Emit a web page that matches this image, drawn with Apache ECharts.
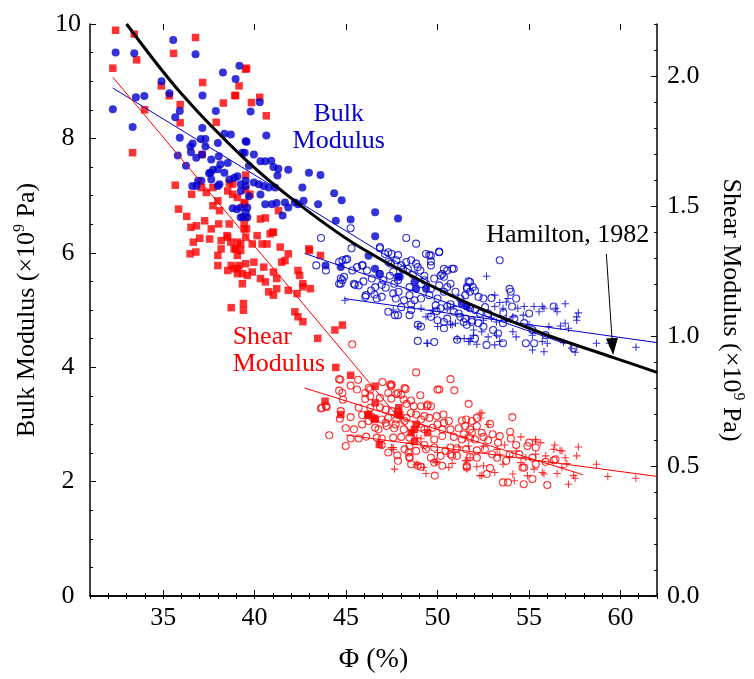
<!DOCTYPE html>
<html><head><meta charset="utf-8">
<script src="https://cdn.jsdelivr.net/npm/echarts@6/dist/echarts.min.js"></script>
<style>html,body{margin:0;padding:0;background:#fff}#c{width:754px;height:679px}</style>
</head><body><div id="c"></div>
<script>
const FONT = 'Liberation Serif';
const BLUE = '#0000d0';
const RED = '#ff0000';

// axis ticks
const xMajorTicks = [35, 40, 45, 50, 55, 60];
const yRightMajorTicks = [0, 0.5, 1.0, 1.5, 2.0];

// Hamilton (1982) bulk modulus curve (left axis)
const hamiltonCurve = [[33,10],[36,8.78],[39.5,7.63],[42.5,6.83],[45.9,6.07],[50.7,5.26],[55.5,4.62],[59.7,4.16],[62,3.91]];
const hamiltonArrow = [[59.23,5.98],[59.57,4.36]];

// fitted lines
const bulkFilledFit = [[32.25,8.88],[49.6,5.48]];
const bulkOpenFit = [[42.73,5.99],[57.0,4.41]];
const bulkPlusFit = [[44.9,5.20],[62,4.43]];
const shearSquareFit = [[32.25,1.995],[49.44,0.555]];
const shearOpenFit = [[42.73,0.800],[57.97,0.466]];
const shearPlusFit = [[45.0,0.619],[62,0.46]];

// Bulk modulus (x10^9 Pa), left axis
const bulkFilled = [[32.25,8.51],[32.40,9.50],[33.33,8.20],[33.42,9.49],[33.51,8.72],[33.97,8.74],[34.91,9.00],[35.34,8.79],[35.55,9.72],[35.91,8.48],[35.66,8.37],[35.91,8.01],[35.80,7.70],[36.25,7.52],[36.77,9.47],[37.15,8.75],[37.14,8.18],[37.06,7.99],[37.31,7.99],[36.49,7.86],[36.61,7.91],[36.52,7.76],[36.81,7.66],[37.31,7.86],[37.13,7.72],[37.63,7.63],[37.72,7.45],[37.51,7.39],[37.99,7.46],[38.04,7.69],[37.99,7.92],[37.88,8.48],[38.27,9.15],[38.35,8.08],[38.70,8.07],[38.96,9.04],[39.17,9.27],[39.51,7.95],[39.46,7.75],[38.13,7.55],[38.53,7.57],[38.35,7.40],[38.62,7.28],[38.89,7.31],[39.06,7.34],[39.24,7.20],[39.51,7.17],[37.59,7.40],[37.63,7.28],[36.91,7.26],[36.59,7.17],[36.82,7.17],[37.09,7.26],[37.99,7.17],[38.08,7.20],[38.80,6.78],[39.03,6.76],[39.33,6.62],[39.51,6.71],[39.24,6.79],[40.28,8.63],[39.78,8.47],[40.64,8.05],[39.56,7.94],[39.33,7.75],[39.96,7.72],[40.32,7.60],[40.58,7.60],[40.91,7.61],[39.69,7.52],[41.03,7.50],[41.30,7.47],[41.25,7.35],[41.84,7.45],[42.97,7.40],[43.60,7.36],[42.61,7.14],[39.51,7.26],[39.96,7.23],[40.23,7.20],[40.50,7.17],[40.77,7.14],[41.12,7.14],[39.24,7.08],[39.69,6.99],[40.32,7.02],[40.58,6.85],[40.94,6.85],[41.20,6.87],[41.66,6.88],[41.84,6.79],[41.53,6.65],[42.20,6.88],[42.38,6.85],[42.68,6.91],[43.47,6.85],[44.35,7.04],[44.76,6.92],[44.44,6.56],[45.25,6.58],[46.59,6.71],[46.59,6.29],[47.84,6.60],[39.60,6.79],[39.24,6.62],[39.60,6.62],[46.23,5.95],[46.58,5.72],[43.88,5.78],[44.71,5.75],[46.82,5.63],[47.93,5.58],[48.74,5.49],[49.37,5.37],[51.33,5.11],[51.60,5.06],[48.83,5.37],[47.84,5.58]];
const bulkOpen = [[43.63,6.26],[45.30,6.08],[48.29,6.26],[48.83,6.16],[46.85,6.08],[47.31,6.01],[47.49,5.98],[47.84,5.96],[50.09,6.02],[49.55,5.96],[49.64,5.85],[43.37,5.78],[43.90,5.69],[44.98,5.88],[44.62,5.84],[45.60,5.75],[45.91,5.78],[46.14,5.69],[47.31,5.84],[47.45,5.81],[48.29,5.84],[48.56,5.87],[48.83,5.81],[49.06,5.69],[48.38,5.72],[48.11,5.71],[47.58,5.67],[46.85,5.63],[46.41,5.55],[47.04,5.52],[46.95,5.44],[47.63,5.46],[47.17,5.39],[44.71,5.55],[44.89,5.58],[44.71,5.46],[45.48,5.44],[45.69,5.43],[46.37,5.34],[46.09,5.26],[46.55,5.27],[46.95,5.23],[46.68,5.20],[47.58,5.29],[47.72,5.20],[47.87,5.32],[48.47,5.40],[48.47,5.26],[48.17,5.17],[48.56,5.10],[48.74,5.17],[49.10,5.20],[49.55,5.26],[50.00,5.20],[50.35,5.32],[50.53,5.40],[50.26,5.63],[50.53,5.69],[50.89,5.72],[50.35,5.58],[50.71,5.46],[50.98,5.32],[51.25,5.20],[51.61,5.37],[51.78,5.32],[51.52,5.26],[49.90,5.08],[50.17,5.03],[50.53,5.06],[50.89,4.97],[51.16,4.94],[47.31,4.97],[47.67,4.91],[47.84,4.91],[48.56,5.00],[48.47,4.91],[48.92,4.74],[49.10,4.71],[49.64,4.88],[50.00,4.82],[50.35,4.79],[50.53,4.85],[50.35,4.68],[51.43,4.79],[51.60,4.74],[51.88,4.82],[48.92,4.46],[49.82,4.44],[51.07,4.48],[46.05,5.23],[45.34,5.69],[44.80,5.87],[45.06,5.89],[47.75,5.87],[48.02,5.78],[49.37,5.98],[48.92,5.75],[49.28,5.52],[51.70,5.50],[51.61,5.40],[51.93,5.40],[52.05,5.34],[52.24,5.23],[52.51,5.20],[52.95,5.21],[51.78,5.03],[52.05,5.00],[52.32,4.94],[52.77,4.94],[51.52,4.85],[51.88,4.79],[52.24,4.77],[52.51,4.71],[53.04,4.65],[53.31,4.59],[53.58,4.42],[52.68,4.39],[52.05,4.50],[53.94,5.37],[54.00,5.32],[54.30,5.20],[54.08,5.06],[54.20,4.85],[55.01,4.94],[54.74,4.77],[55.19,4.65],[54.83,4.42],[55.28,4.42],[55.91,4.56],[56.35,5.06],[57.43,4.33],[53.58,4.77],[53.40,5.87],[44.80,5.52],[44.62,5.46],[45.43,5.46],[47.13,5.98],[49.64,5.95],[50.09,6.01],[45.87,5.78],[49.64,5.78],[50.35,5.72],[50.80,5.72],[51.78,5.49],[50.17,5.60],[45.25,6.43],[46.85,6.10],[46.59,5.40],[47.40,5.60],[47.84,5.52],[49.28,5.60],[49.82,5.55],[49.64,5.37],[50.09,5.43],[48.02,5.05],[49.10,5.45],[50.71,5.10],[51.25,4.88],[52.60,5.05],[53.60,4.95],[45.95,5.50],[48.65,5.62],[49.95,4.98]];
const bulkPlus = [[44.94,5.17],[48.92,4.71],[49.46,4.42],[49.37,4.88],[49.64,4.94],[50.00,4.71],[50.71,4.75],[50.98,4.77],[51.70,5.03],[51.46,4.50],[51.78,4.45],[51.97,4.56],[49.10,5.03],[49.73,5.00],[50.53,5.03],[50.89,5.06],[52.68,5.59],[53.40,5.13],[53.13,5.06],[53.58,5.03],[53.76,4.85],[54.12,4.88],[54.39,5.03],[54.74,5.06],[54.69,4.91],[55.28,5.06],[55.73,5.06],[55.55,4.97],[55.82,5.03],[56.45,5.03],[56.98,5.11],[56.54,4.97],[56.72,4.72],[56.98,4.77],[57.16,4.68],[57.61,4.88],[57.70,4.95],[57.61,4.82],[54.12,4.62],[54.30,4.53],[55.19,4.56],[55.73,4.45],[55.82,4.27],[55.19,4.30],[56.00,4.42],[56.89,4.43],[57.34,4.33],[57.52,4.26],[51.97,4.65],[52.42,4.62],[52.77,4.53],[53.22,4.56],[53.40,4.45],[51.70,4.45],[52.15,4.40],[53.13,4.39],[52.51,4.82],[52.95,4.86],[53.22,4.79],[53.76,5.14],[55.01,4.74],[56.09,4.71],[58.69,4.42],[59.40,4.42],[60.85,4.35],[53.13,5.26],[53.85,5.20],[47.58,5.00],[49.42,4.42],[51.08,4.50],[50.80,4.74],[51.78,4.50]];

// Shear modulus (x10^9 Pa), right axis
const shearSquares = [[32.40,2.176],[33.42,2.161],[32.25,2.030],[33.55,2.062],[33.99,1.870],[33.33,1.705],[34.90,1.962],[35.34,1.924],[35.57,2.087],[35.93,1.890],[35.93,1.820],[36.77,2.148],[37.16,1.975],[38.29,1.896],[37.90,1.822],[38.96,1.925],[39.51,2.026],[39.15,1.962],[37.13,1.698],[35.66,1.580],[35.84,1.488],[36.29,1.460],[36.56,1.545],[37.09,1.571],[37.36,1.552],[37.72,1.571],[37.99,1.520],[37.72,1.501],[38.08,1.482],[38.53,1.558],[38.80,1.545],[38.80,1.584],[39.06,1.533],[39.43,1.507],[36.52,1.418],[36.82,1.424],[37.27,1.443],[37.63,1.412],[38.04,1.431],[38.61,1.431],[39.43,1.412],[39.06,1.361],[38.53,1.380],[38.17,1.367],[37.00,1.376],[37.54,1.373],[39.43,1.431],[36.47,1.316],[36.79,1.323],[36.65,1.361],[37.99,1.310],[38.17,1.335],[38.49,1.386],[38.70,1.361],[38.97,1.335],[39.06,1.310],[37.99,1.271],[38.53,1.252],[38.89,1.259],[39.15,1.271],[39.06,1.240],[39.33,1.201],[39.33,1.240],[38.72,1.109],[39.39,1.125],[39.39,1.099],[39.56,2.030],[38.92,1.925],[39.83,1.898],[40.28,1.918],[40.64,1.847],[38.62,1.588],[39.51,1.619],[39.51,1.562],[39.75,1.545],[39.46,1.514],[39.51,1.456],[41.30,1.482],[40.32,1.450],[40.59,1.454],[40.99,1.399],[40.14,1.386],[40.68,1.354],[39.56,1.412],[41.40,1.342],[39.24,1.354],[42.97,1.335],[39.51,1.380],[39.87,1.354],[38.88,1.335],[39.24,1.329],[40.41,1.354],[40.85,1.393],[41.03,1.399],[41.84,1.316],[43.00,1.329],[43.60,1.310],[38.72,1.271],[39.06,1.259],[39.51,1.278],[39.96,1.284],[40.50,1.265],[41.03,1.246],[41.48,1.284],[41.66,1.290],[39.60,1.233],[39.87,1.246],[40.32,1.221],[40.59,1.208],[41.21,1.221],[42.37,1.252],[42.46,1.233],[42.64,1.201],[42.64,1.189],[41.21,1.182],[40.77,1.170],[41.03,1.157],[41.84,1.176],[42.32,1.163],[43.05,1.182],[42.20,1.093],[42.37,1.074],[42.64,1.055],[44.39,1.023],[44.80,1.042],[43.45,0.991],[44.44,0.879],[45.25,0.849],[43.85,0.749],[46.59,0.807],[46.59,0.743],[44.71,0.698],[46.23,0.698],[46.58,0.679],[47.88,0.724],[47.84,0.698],[46.82,0.583],[48.83,0.660],[48.74,0.641],[49.46,0.628],[47.94,0.696],[46.19,0.696],[46.55,0.683],[48.56,0.628],[48.74,0.594]];
const shearOpen = [[48.83,0.860],[44.62,0.834],[45.25,0.809],[45.66,0.832],[46.99,0.823],[47.41,0.813],[50.71,0.834],[50.10,0.794],[50.92,0.791],[48.26,0.796],[44.62,0.790],[44.80,0.781],[46.05,0.781],[46.32,0.794],[44.83,0.755],[46.05,0.758],[46.85,0.762],[47.31,0.781],[47.75,0.777],[48.02,0.774],[47.47,0.759],[48.15,0.755],[49.06,0.772],[48.55,0.752],[48.31,0.739],[49.10,0.730],[49.42,0.730],[49.64,0.730],[48.70,0.730],[51.70,0.739],[43.63,0.721],[43.94,0.727],[44.71,0.711],[45.69,0.724],[46.32,0.724],[46.85,0.726],[47.17,0.717],[47.51,0.711],[48.55,0.704],[49.28,0.692],[49.55,0.685],[50.32,0.698],[44.66,0.682],[45.25,0.688],[45.88,0.696],[46.42,0.688],[46.95,0.679],[47.31,0.685],[47.75,0.679],[48.31,0.685],[49.10,0.679],[49.96,0.692],[50.35,0.666],[50.62,0.673],[51.33,0.675],[51.57,0.679],[51.88,0.673],[52.15,0.685],[52.87,0.662],[54.09,0.688],[44.98,0.645],[45.43,0.641],[46.59,0.647],[47.22,0.654],[47.63,0.645],[48.15,0.641],[49.28,0.641],[49.73,0.647],[50.26,0.641],[50.71,0.641],[51.16,0.645],[51.52,0.654],[51.78,0.641],[52.15,0.654],[52.42,0.628],[53.01,0.622],[53.97,0.632],[45.69,0.606],[46.10,0.613],[46.95,0.606],[47.58,0.609],[48.02,0.612],[49.82,0.602],[50.26,0.615],[50.89,0.612],[51.33,0.602],[51.78,0.609],[52.51,0.612],[52.77,0.599],[53.31,0.590],[54.01,0.606],[55.01,0.590],[54.92,0.577],[44.98,0.577],[46.95,0.581],[48.47,0.577],[49.37,0.564],[50.44,0.558],[51.06,0.568],[51.57,0.564],[52.15,0.560],[50.17,0.539],[50.71,0.545],[51.06,0.539],[51.78,0.535],[52.99,0.545],[53.26,0.532],[53.94,0.545],[55.19,0.532],[55.91,0.516],[56.45,0.526],[47.80,0.541],[48.47,0.532],[49.82,0.513],[50.26,0.501],[49.10,0.497],[51.60,0.494],[52.87,0.492],[54.65,0.494],[49.85,0.463],[52.69,0.469],[53.58,0.437],[53.85,0.437],[54.71,0.430],[56.00,0.427],[48.92,0.501],[44.08,0.618],[45.25,0.606],[48.42,0.552],[48.47,0.535],[50.80,0.539],[51.60,0.501],[55.19,0.450],[56.36,0.522],[54.74,0.494],[45.34,0.968],[44.69,0.832],[45.60,0.794],[46.23,0.800],[47.49,0.813],[47.84,0.781],[48.20,0.800],[50.00,0.794],[49.46,0.736],[43.67,0.724],[43.90,0.730],[46.32,0.768],[47.47,0.807],[47.84,0.708],[48.83,0.698],[48.20,0.673],[46.77,0.641],[46.68,0.609],[48.47,0.609],[52.05,0.602],[52.59,0.564],[54.47,0.545],[49.64,0.532],[45.88,0.660],[46.23,0.673],[47.17,0.666],[47.71,0.660],[49.10,0.647],[50.00,0.660],[51.43,0.622],[51.88,0.628],[53.40,0.615],[54.30,0.581],[55.37,0.571],[50.71,0.571],[49.82,0.571],[49.28,0.581],[48.83,0.558],[48.20,0.564],[47.31,0.552],[47.84,0.520],[48.56,0.507],[52.15,0.532],[53.76,0.520],[55.37,0.507]];
const shearPlus = [[49.10,0.605],[52.42,0.704],[52.37,0.685],[54.56,0.612],[55.37,0.602],[55.64,0.590],[56.41,0.581],[56.80,0.558],[57.70,0.573],[57.61,0.539],[55.37,0.545],[54.83,0.532],[54.30,0.558],[53.40,0.545],[53.67,0.581],[52.51,0.577],[51.70,0.577],[51.16,0.573],[51.78,0.532],[50.80,0.510],[48.92,0.507],[49.37,0.471],[49.96,0.517],[47.58,0.571],[50.62,0.494],[52.15,0.497],[52.42,0.463],[53.13,0.475],[54.12,0.469],[54.92,0.463],[55.28,0.488],[55.73,0.475],[56.54,0.471],[57.07,0.510],[57.16,0.430],[57.52,0.453],[58.69,0.507],[59.31,0.460],[60.84,0.453],[52.51,0.501],[53.58,0.507],[54.56,0.513],[55.91,0.539],[56.36,0.564],[56.98,0.532],[53.26,0.564],[53.94,0.535],[51.60,0.520],[50.00,0.552],[51.52,0.609],[57.43,0.463],[56.80,0.494],[55.82,0.469],[54.20,0.443],[52.32,0.463],[52.32,0.704],[52.77,0.660],[55.37,0.596],[56.70,0.560],[48.87,0.609],[47.49,0.571],[47.65,0.488],[47.58,0.564],[48.83,0.507],[49.24,0.494],[49.90,0.513],[51.52,0.520],[51.60,0.488]];

const PLUS = 'path://M4.3,0H5.7V4.3H10V5.7H5.7V10H4.3V5.7H0V4.3H4.3Z';
const txt = { fontFamily: FONT, fontSize: 26, color: '#000' };

function scatter(data, yIdx, symbol, size, color, hollow) {
  return {
    type: 'scatter', data, xAxisIndex: 0, yAxisIndex: yIdx, symbol, symbolSize: size, silent: true,
    itemStyle: hollow ? { color: 'rgba(0,0,0,0)', borderColor: color, borderWidth: 1.1 } : { color: color },
  };
}
function fit(data, yIdx, color) {
  return { type: 'line', data, xAxisIndex: 0, yAxisIndex: yIdx, symbol: 'none', silent: true,
    lineStyle: { color, width: 1 }, z: 3 };
}

const xBase = { type: 'value', min: 31, max: 62, gridIndex: 0, splitLine: { show: false } };
const chart = echarts.init(document.getElementById('c'), null, { renderer: 'canvas' });
const option = {
  animation: false,
  backgroundColor: '#fff',
  grid: { left: 90, right: 88, top: 24, bottom: 80 },
  xAxis: [
    Object.assign({}, xBase, { position: 'bottom', interval: 1,
      axisLine: { lineStyle: { color: '#000', width: 1.5 } },
      axisTick: { inside: true, length: 3, lineStyle: { color: '#000', width: 1 } },
      axisLabel: Object.assign({ margin: 9, formatter: v => (v % 5 === 0 ? String(v) : '') }, txt),
      name: 'Φ (%)', nameLocation: 'middle', nameGap: 50,
      nameTextStyle: { fontFamily: FONT, fontSize: 28, color: '#000' } }),
    Object.assign({}, xBase, { position: 'bottom', interval: 1,
      axisLine: { show: false },
      axisTick: { inside: true, length: 6, customValues: xMajorTicks, lineStyle: { color: '#000', width: 1 } },
      axisLabel: { show: false } }),
    Object.assign({}, xBase, { position: 'top', interval: 1,
      axisLine: { lineStyle: { color: '#000', width: 1.5 } },
      axisTick: { inside: true, length: 3, lineStyle: { color: '#000', width: 1 } },
      axisLabel: { show: false } }),
    Object.assign({}, xBase, { position: 'top', interval: 1,
      axisLine: { show: false },
      axisTick: { inside: true, length: 6, customValues: xMajorTicks, lineStyle: { color: '#000', width: 1 } },
      axisLabel: { show: false } }),
  ],
  yAxis: [
    { type: 'value', position: 'left', min: 0, max: 10, interval: 2, splitLine: { show: false },
      axisLine: { show: true, lineStyle: { color: '#000', width: 1.5 } },
      axisTick: { show: true, inside: true, length: 6, lineStyle: { color: '#000', width: 1 } },
      minorTick: { show: true, splitNumber: 4, length: 3, lineStyle: { color: '#000', width: 1 } },
      axisLabel: Object.assign({ margin: 22, align: 'center' }, txt),
      name: '{t|Bulk Modulus (×10}{s|9}{t| Pa)}', nameLocation: 'middle', nameRotate: 90, nameGap: 48,
      nameTextStyle: { rich: {
        t: { fontFamily: FONT, fontSize: 26, color: '#000', lineHeight: 30 },
        s: { fontFamily: FONT, fontSize: 16, color: '#000', lineHeight: 16, verticalAlign: 'top' } } } },
    { type: 'value', position: 'right', min: 0, max: 2.2, interval: 0.1, splitLine: { show: false },
      axisLine: { show: true, lineStyle: { color: '#000', width: 1.5 } },
      axisTick: { show: true, inside: true, length: 3, lineStyle: { color: '#000', width: 1 } },
      axisLabel: Object.assign({ margin: 10,
        formatter: v => (Math.round(v * 10) % 5 === 0 && v < 2.15 ? v.toFixed(1) : '') }, txt),
      name: '{t|Shear Modulus (×10}{s|9}{t| Pa)}', nameLocation: 'middle', nameRotate: -90, nameGap: 59,
      nameTextStyle: { rich: {
        t: { fontFamily: FONT, fontSize: 26, color: '#000', lineHeight: 30 },
        s: { fontFamily: FONT, fontSize: 16, color: '#000', lineHeight: 16, verticalAlign: 'top' } } } },
    { type: 'value', position: 'right', min: 0, max: 2.2, interval: 0.1, splitLine: { show: false },
      axisLine: { show: false },
      axisTick: { show: true, inside: true, length: 6, customValues: yRightMajorTicks, lineStyle: { color: '#000', width: 1 } },
      axisLabel: { show: false } },
  ],
  series: [
    scatter(shearSquares, 1, 'rect', 7.5, RED, false),
    scatter(bulkFilled, 0, 'circle', 8, BLUE, false),
    scatter(bulkOpen, 0, 'circle', 7, BLUE, true),
    scatter(bulkPlus, 0, PLUS, 7.5, BLUE, false),
    scatter(shearOpen, 1, 'circle', 7, RED, true),
    scatter(shearPlus, 1, PLUS, 7.5, RED, false),
    fit(bulkFilledFit, 0, BLUE),
    fit(bulkOpenFit, 0, BLUE),
    fit(bulkPlusFit, 0, BLUE),
    fit(shearSquareFit, 1, RED),
    fit(shearOpenFit, 1, RED),
    fit(shearPlusFit, 1, RED),
    { type: 'line', data: hamiltonCurve, xAxisIndex: 0, yAxisIndex: 0, smooth: 0.35,
      symbol: 'none', silent: true,
      lineStyle: { color: '#000', width: 3 }, z: 4,
      markLine: { silent: true, animation: false, symbol: ['none', 'triangle'], symbolSize: [12, 17],
        label: { show: false }, lineStyle: { color: '#000', width: 1, type: 'solid' },
        data: [[{ coord: hamiltonArrow[0] }, { coord: hamiltonArrow[1] }]] } },
  ],
};
chart.setOption(option);

function px(p) { return chart.convertToPixel({ xAxisIndex: 0, yAxisIndex: 0 }, p); }
function label(text, pos, color, align) {
  const p = px(pos);
  return { type: 'text', x: p[0], y: p[1], silent: true, z: 10,
    style: { text, fill: color, font: '26px "Liberation Serif"', lineHeight: 27,
      align, verticalAlign: 'middle', textAlign: align, textVerticalAlign: 'middle' } };
}
chart.setOption({ graphic: [
  label('Bulk\nModulus', [44.6, 8.19], BLUE, 'center'),
  label('Shear\nModulus', [38.8, 4.29], RED, 'left'),
  label('Hamilton, 1982', [57.12, 6.31], '#000', 'center'),
] });
</script></body></html>
